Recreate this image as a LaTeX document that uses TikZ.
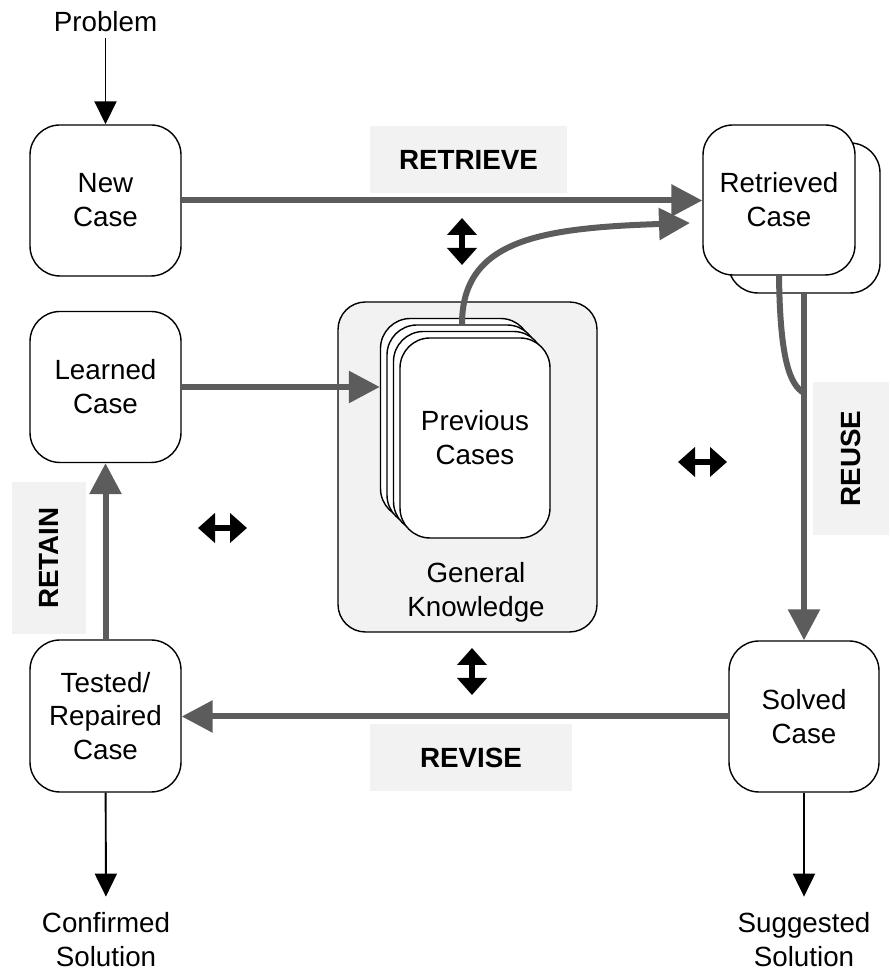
\documentclass[tikz,border=0pt]{standalone}
\usepackage{fontspec}
\setmainfont{Liberation Sans}
\usetikzlibrary{arrows.meta}
\definecolor{flowgray}{HTML}{5C5C5C}
\definecolor{panel}{HTML}{F2F2F2}
\tikzstyle{casebox} = [draw, line width=0.8pt, rounded corners=0.6cm, fill=white, minimum width=3.02cm, minimum height=3.02cm, align=center, font=\fontsize{15.8}{19.3}\selectfont]
\tikzstyle{cardbox} = [casebox, minimum width=3cm, minimum height=4cm]
\tikzstyle{plain} = [align=center, font=\fontsize{15.8}{19.3}\selectfont]
\tikzstyle{phase} = [fill=panel, font=\fontsize{15.8}{19.3}\selectfont\bfseries]
\tikzstyle{flow} = [draw=flowgray, line width=0.12cm, -{Triangle[length=0.62cm,width=0.62cm]}]
\tikzstyle{iolink} = [line width=1.1pt, -{Triangle[length=0.46cm,width=0.44cm]}]
\tikzstyle{twoway} = [line width=0.13cm, {Triangle[length=0.34cm,width=0.58cm]}-{Triangle[length=0.34cm,width=0.58cm]}]

\begin{document}
\begin{tikzpicture}
			\useasboundingbox (0,0) rectangle (17.78,19.44);
			% phase labels
			\node[phase, minimum width=3.94cm, minimum height=1.34cm] (retrieve) at (9.37,16.25) {RETRIEVE};
			\node[phase, minimum width=4.04cm, minimum height=1.34cm] (revise) at (9.42,4.29) {REVISE};
			\node[phase, rotate=90, minimum width=3.06cm, minimum height=1.52cm] (reuse) at (17.02,10.27) {REUSE};
			\node[phase, rotate=90, minimum width=3.04cm, minimum height=1.48cm] (retain) at (0.98,8.28) {RETAIN};
			% knowledge base
			\node[draw, line width=0.8pt, fill=panel, rounded corners=0.55cm, minimum width=5.18cm, minimum height=6.6cm] (gk) at (9.35,10.10) {};
			\node[plain] (gktext) at (9.52,7.60) {General\\Knowledge};
			\node[cardbox] (cardA) at (9.11,11.07) {};
			\node[cardbox] (cardB) at (9.24,10.94) {};
			\node[cardbox] (cardC) at (9.37,10.81) {};
			\node[cardbox] (cardD) at (9.50,10.68) {Previous\\Cases};
			% cases
			\node[plain] (problem) at (2.11,19.00) {Problem};
			\node[casebox] (new) at (2.11,15.43) {New\\Case};
			\node[casebox] (learned) at (2.11,11.70) {Learned\\Case};
			\node[casebox, minimum height=3.04cm] (tested) at (2.11,5.12) {Tested/\\Repaired\\Case};
			\node[casebox, minimum width=3.04cm, minimum height=3cm] (retrievedback) at (16.08,15.08) {};
			\node[casebox, minimum width=3.04cm, minimum height=3cm] (retrieved) at (15.58,15.44) {Retrieved\\Case};
			\node[casebox, minimum width=3cm] (solved) at (16.08,5.11) {Solved\\Case};
			\node[plain] (confirmed) at (2.12,0.64) {Confirmed\\Solution};
			\node[plain] (suggested) at (16.08,0.64) {Suggested\\Solution};
			\coordinate (rtin) at (13.80,14.98);
			\coordinate (join) at (16.08,11.58);
			% main cycle
			\draw[flow] (new.east) -- (new.east -| retrieved.west);
			\draw[flow] (cardB.north) .. controls (9.24,14.64) and (10.80,14.88) .. (rtin);
			\draw[flowgray, line width=0.12cm] (retrieved.south) .. controls (15.60,12.24) and (15.80,11.74) .. (join);
			\draw[flow] (retrievedback.south) -- (solved.north);
			\draw[flow] (solved.west) -- (solved.west -| tested.east);
			\draw[flow] (tested.north) -- (learned.south);
			\draw[flow] (learned.east) -- (learned.east -| cardA.west);
			% in and out
			\draw[iolink] (problem) -- (new);
			\draw[iolink, shorten >=0.2cm] (tested) -- (confirmed);
			\draw[iolink, shorten >=0.2cm] (solved) -- (suggested);
			% two-way arrows
			\coordinate (tvA) at (9.24,15.08);
			\coordinate (tvB) at (9.24,14.14);
			\coordinate (bvA) at (9.44,6.48);
			\coordinate (bvB) at (9.44,5.54);
			\coordinate (lhA) at (3.96,8.88);
			\coordinate (lhB) at (4.94,8.88);
			\coordinate (rhA) at (13.56,10.20);
			\coordinate (rhB) at (14.54,10.20);
			\draw[twoway] (tvA) -- (tvB);
			\draw[twoway] (bvA) -- (bvB);
			\draw[twoway] (lhA) -- (lhB);
			\draw[twoway] (rhA) -- (rhB);
		\end{tikzpicture}
\end{document}
